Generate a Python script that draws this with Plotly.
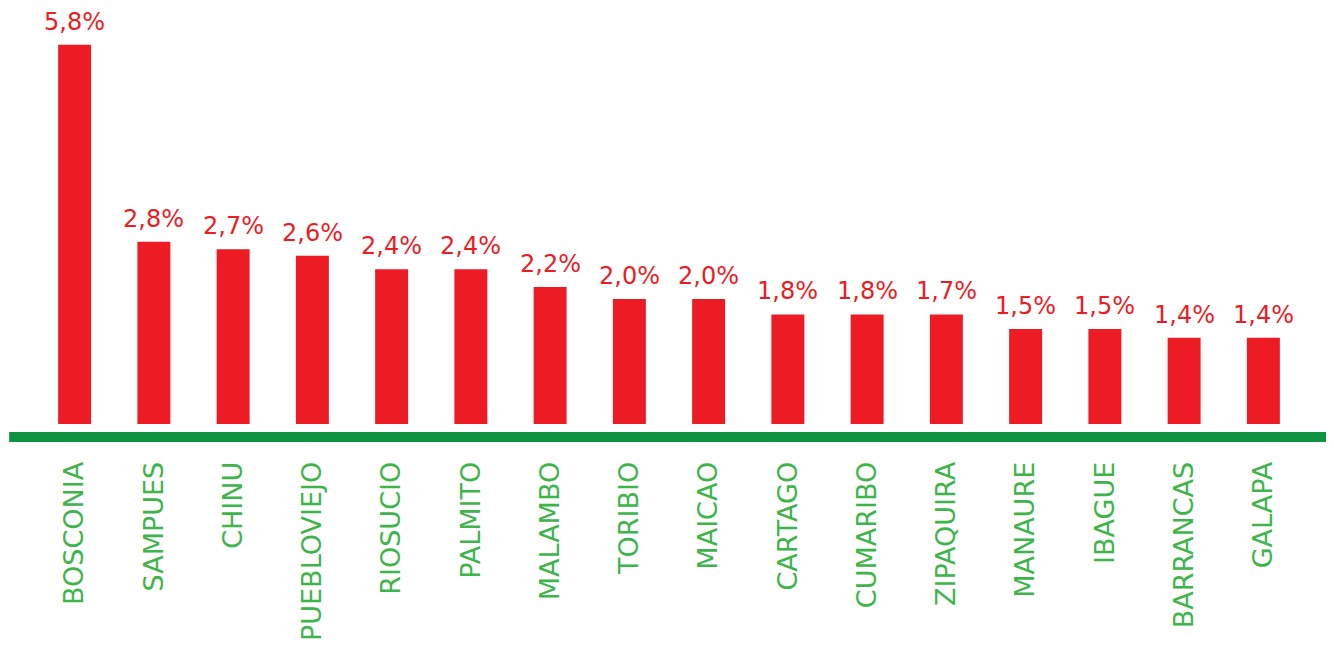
import plotly.graph_objects as go

municipios = ["BOSCONIA", "SAMPUES", "CHINU", "PUEBLOVIEJO", "RIOSUCIO", "PALMITO",
              "MALAMBO", "TORIBIO", "MAICAO", "CARTAGO", "CUMARIBO", "ZIPAQUIRA",
              "MANAURE", "IBAGUE", "BARRANCAS", "GALAPA"]
valores = [5.80, 2.84, 2.73, 2.63, 2.43, 2.43, 2.16, 1.98, 1.98, 1.75, 1.75, 1.75,
           1.53, 1.53, 1.40, 1.40]
etiquetas = ["5,8%", "2,8%", "2,7%", "2,6%", "2,4%", "2,4%", "2,2%", "2,0%", "2,0%",
             "1,8%", "1,8%", "1,7%", "1,5%", "1,5%", "1,4%", "1,4%"]

RED = "#ED1C24"
GREEN_LINE = "#0E9343"
GREEN_TEXT = "#3DB54A"
FONT = "DejaVu Sans"

fig = go.Figure(go.Bar(
    x=municipios, y=valores,
    marker=dict(color=RED, line=dict(width=0)),
    hoverinfo="skip",
))

annotations = [
    dict(x=m, y=v, xref="x", yref="y", text=t, showarrow=False,
         yanchor="bottom", xanchor="center", yshift=7,
         font=dict(family=FONT, size=24, color=RED))
    for m, v, t in zip(municipios, valores, etiquetas)
]

fig.update_layout(
    width=1334, height=642,
    margin=dict(l=27, r=39, t=12, b=226, autoexpand=False),
    paper_bgcolor="white", plot_bgcolor="white",
    bargap=0.584, showlegend=False,
    xaxis=dict(tickangle=-90, tickfont=dict(family=FONT, size=27, color=GREEN_TEXT),
               showgrid=False, showline=False, zeroline=False,
               ticks="outside", ticklen=26, tickcolor="rgba(0,0,0,0)", automargin=False),
    yaxis=dict(range=[0.105, 6.17], visible=False, showgrid=False, zeroline=False),
    annotations=annotations,
    shapes=[dict(type="line", xref="paper", yref="paper",
                 x0=-0.0204, x1=1.05, y0=-0.0322, y1=-0.0322,
                 line=dict(color=GREEN_LINE, width=10))],
)

fig.write_html("out.html")
